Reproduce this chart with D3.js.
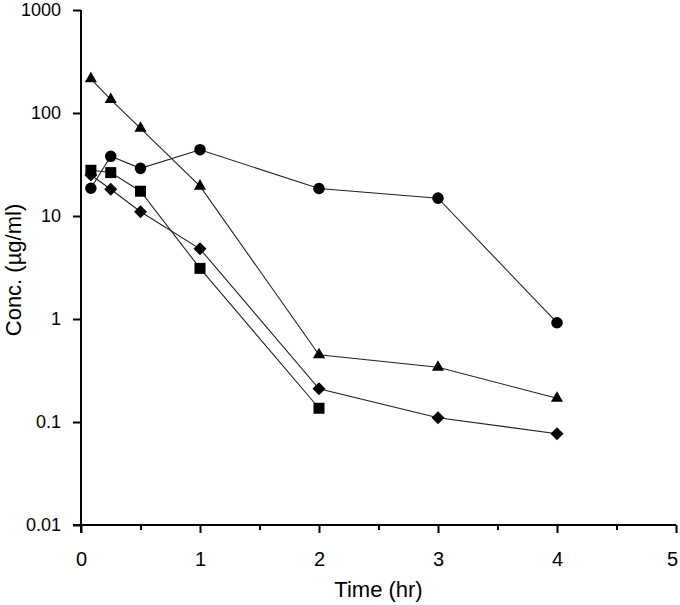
<!DOCTYPE html>
<html>
<head>
<meta charset="utf-8">
<script src="https://cdn.jsdelivr.net/npm/d3@7"></script>
<style>
  html, body { margin: 0; padding: 0; background: #fff; }
  svg { display: block; font-family: "Liberation Sans", Arial, sans-serif; }
</style>
</head>
<body>
<svg id="chart" width="680" height="605"></svg>
<script>
// ---- data ----
const times = [0.083, 0.25, 0.5, 1, 2, 3, 4];
const circleSeries   = [18.6, 38, 29, 44, 18.5, 14.9, 0.92];
const triangleSeries = [215, 135, 71, 19.5, 0.45, 0.34, 0.17];
const squareSeries   = [27.8, 26.4, 17.4, 3.1, 0.136];
const diamondSeries  = [25, 18.2, 11, 4.8, 0.21, 0.11, 0.077];
const yTickValues = [0.01, 0.1, 1, 10, 100, 1000];
const yTickLabels = ["0.01", "0.1", "1", "10", "100", "1000"];
const xTickValues = [0, 1, 2, 3, 4, 5];
const xMinorTicks = [0.5, 1.5, 2.5, 3.5, 4.5];
const xLabel = "Time (hr)";
const yLabel = "Conc. (\u00b5g/ml)";

// ---- layout ----
const svg = d3.select("#chart");
const x = d3.scaleLinear().domain([0, 5]).range([81, 676]);
const y = d3.scaleLog().domain([0.01, 1000]).range([525, 10]);

// ---- axes ----
const yAxis = d3.axisLeft(y)
  .tickValues(yTickValues)
  .tickFormat((d, i) => yTickLabels[i])
  .tickSize(8).tickPadding(12).tickSizeOuter(0);
const gy = svg.append("g").attr("transform", `translate(${x(0)},0)`).call(yAxis);
gy.select(".domain").remove();
gy.selectAll(".tick line").attr("stroke", "#000").attr("stroke-width", 2);
gy.selectAll(".tick text").attr("font-size", 18).attr("fill", "#000");

const xAxis = d3.axisBottom(x)
  .tickValues(xTickValues)
  .tickFormat(d3.format("d"))
  .tickSize(8).tickPadding(19).tickSizeOuter(0);
const gx = svg.append("g").attr("transform", `translate(0,${y(0.01)})`).call(xAxis);
gx.select(".domain").remove();
gx.selectAll(".tick line").attr("stroke", "#000").attr("stroke-width", 2);
gx.selectAll(".tick text").attr("font-size", 20).attr("fill", "#000")
  .attr("dx", d => d === 5 ? -4 : 0);

const xMinor = d3.axisBottom(x).tickValues(xMinorTicks).tickFormat("").tickSize(5).tickSizeOuter(0);
const gxm = svg.append("g").attr("transform", `translate(0,${y(0.01)})`).call(xMinor);
gxm.select(".domain").remove();
gxm.selectAll(".tick line").attr("stroke", "#000").attr("stroke-width", 2);

// axis lines
svg.append("line").attr("x1", x(0)).attr("x2", x(0)).attr("y1", y(1000)).attr("y2", y(0.01) + 8)
  .attr("stroke", "#000").attr("stroke-width", 2);
svg.append("line").attr("x1", x(0) - 8).attr("x2", x(5)).attr("y1", y(0.01)).attr("y2", y(0.01))
  .attr("stroke", "#000").attr("stroke-width", 2);

// axis titles
svg.append("text").attr("x", (x(0) + x(5)) / 2).attr("y", 597)
  .attr("text-anchor", "middle").attr("font-size", 22).attr("fill", "#000").text(xLabel);
svg.append("text").attr("transform", "translate(21,270) rotate(-90)")
  .attr("text-anchor", "middle").attr("font-size", 22).attr("fill", "#000").text(yLabel);

// ---- series ----
const line = d3.line().x(d => x(d[0])).y(d => y(d[1]));
const series = [
  { vals: circleSeries, sym: d3.symbolCircle, size: Math.PI * 5.8 * 5.8, rot: 0 },
  { vals: triangleSeries, sym: d3.symbolTriangle, size: 64, rot: 0 },
  { vals: squareSeries, sym: d3.symbolSquare, size: 121, rot: 0 },
  { vals: diamondSeries, sym: d3.symbolSquare, size: 84, rot: 45 }
];
series.forEach(s => {
  const pts = s.vals.map((v, i) => [times[i], v]);
  svg.append("path").datum(pts).attr("d", line)
    .attr("fill", "none").attr("stroke", "#222").attr("stroke-width", 1.1);
});
series.forEach(s => {
  const pts = s.vals.map((v, i) => [times[i], v]);
  svg.append("g").selectAll("path").data(pts).join("path")
    .attr("transform", d => `translate(${x(d[0])},${y(d[1])}) rotate(${s.rot})`)
    .attr("d", d3.symbol().type(s.sym).size(s.size))
    .attr("fill", "#000");
});
</script>
</body>
</html>
